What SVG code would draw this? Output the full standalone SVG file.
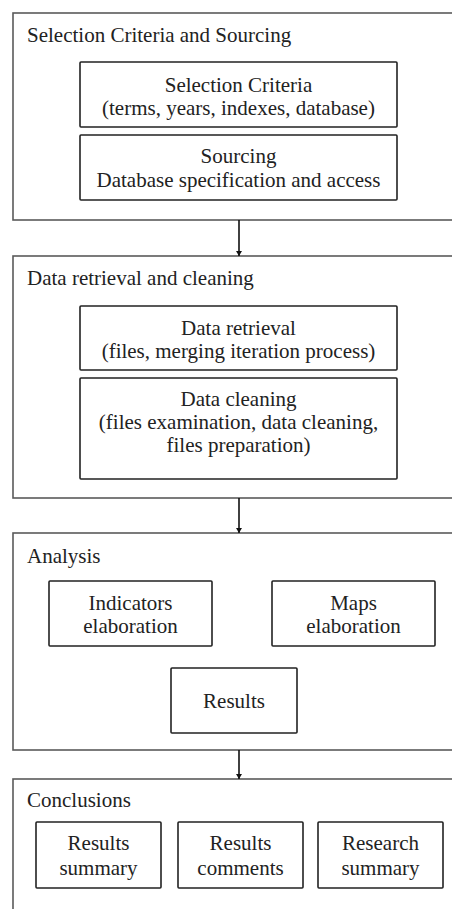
<svg xmlns="http://www.w3.org/2000/svg" width="452" height="909" viewBox="0 0 452 909">
<style>
.outer{fill:none;stroke:#5a5a5a;stroke-width:1.6}
.box{fill:#fff;stroke:#222;stroke-width:1.6}
text{font-family:'Liberation Serif','Times New Roman','DejaVu Serif',serif;font-size:21px;fill:#222}
.c{text-anchor:middle}
.conn{stroke:#111;stroke-width:1.6;fill:none}
</style>
<defs>
<marker id="ah" viewBox="0 0 10 10" refX="10" refY="5" markerWidth="5" markerHeight="6" markerUnits="userSpaceOnUse" orient="auto" preserveAspectRatio="none">
<path d="M0,0 L10,5 L0,10 Z" fill="#111"/>
</marker>
</defs>
<rect width="452" height="909" fill="#fff"/>
<g id="stage1">
<rect class="outer" x="13" y="13" width="460" height="207"/>
<text x="27" y="42">Selection Criteria and Sourcing</text>
</g>
<g id="selection">
<rect class="box" x="80" y="62" width="317" height="65" rx="1"/>
<text class="c" x="238.5" y="92">Selection Criteria</text>
<text class="c" x="238.5" y="115">(terms, years, indexes, database)</text>
</g>
<g id="sourcing">
<rect class="box" x="80" y="135" width="317" height="65" rx="1"/>
<text class="c" x="238.5" y="163">Sourcing</text>
<text class="c" x="238.5" y="187">Database specification and access</text>
</g>
<g id="stage2">
<rect class="outer" x="13" y="256" width="460" height="242"/>
<text x="27" y="285">Data retrieval and cleaning</text>
</g>
<g id="retrieval">
<rect class="box" x="80" y="306" width="317" height="64" rx="1"/>
<text class="c" x="238.5" y="335">Data retrieval</text>
<text class="c" x="238.5" y="358">(files, merging iteration process)</text>
</g>
<g id="cleaning">
<rect class="box" x="80" y="378" width="317" height="101" rx="1"/>
<text class="c" x="238.5" y="406">Data cleaning</text>
<text class="c" x="238.5" y="429">(files examination, data cleaning,</text>
<text class="c" x="238.5" y="452">files preparation)</text>
</g>
<g id="stage3">
<rect class="outer" x="13" y="533" width="460" height="217"/>
<text x="27" y="563">Analysis</text>
</g>
<g id="indicators">
<rect class="box" x="49" y="581" width="163" height="65" rx="1"/>
<text class="c" x="130.5" y="610">Indicators</text>
<text class="c" x="130.5" y="633">elaboration</text>
</g>
<g id="maps">
<rect class="box" x="272" y="581" width="163" height="65" rx="1"/>
<text class="c" x="353.5" y="610">Maps</text>
<text class="c" x="353.5" y="633">elaboration</text>
</g>
<g id="results">
<rect class="box" x="171" y="668" width="126" height="65" rx="1"/>
<text class="c" x="234" y="708">Results</text>
</g>
<g id="stage4">
<rect class="outer" x="13" y="779" width="460" height="160"/>
<text x="27" y="807">Conclusions</text>
</g>
<g id="resultsSummary">
<rect class="box" x="36" y="822" width="125" height="66" rx="1"/>
<text class="c" x="98.5" y="850">Results</text>
<text class="c" x="98.5" y="875">summary</text>
</g>
<g id="resultsComments">
<rect class="box" x="178" y="822" width="125" height="66" rx="1"/>
<text class="c" x="240.5" y="850">Results</text>
<text class="c" x="240.5" y="875">comments</text>
</g>
<g id="researchSummary">
<rect class="box" x="318" y="822" width="125" height="66" rx="1"/>
<text class="c" x="380.5" y="850">Research</text>
<text class="c" x="380.5" y="875">summary</text>
</g>
<g id="connectors">
<line class="conn" x1="239" y1="220" x2="239" y2="256" marker-end="url(#ah)"/>
<line class="conn" x1="239" y1="498" x2="239" y2="533" marker-end="url(#ah)"/>
<line class="conn" x1="239" y1="750" x2="239" y2="779" marker-end="url(#ah)"/>
</g>
</svg>
